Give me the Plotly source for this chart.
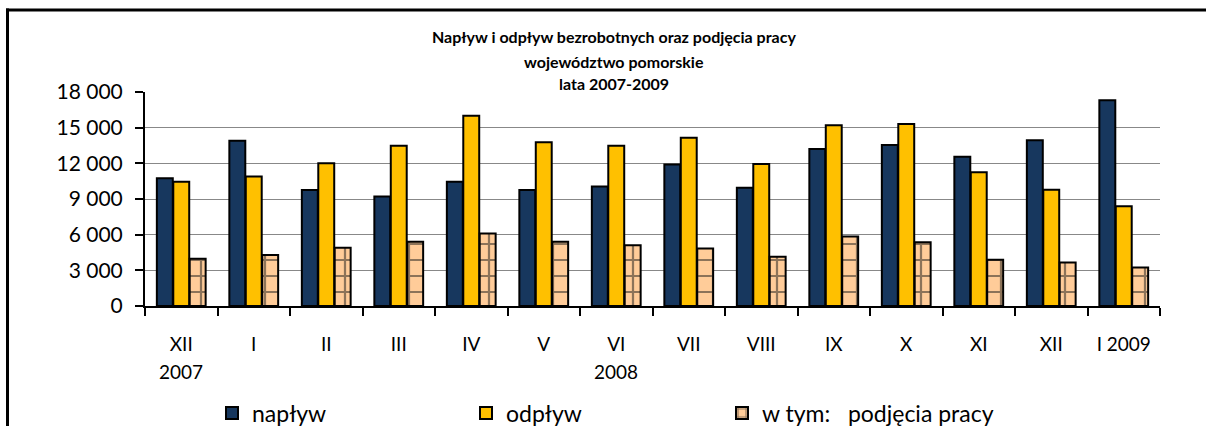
import plotly.graph_objects as go

categories = ["XII 2007", "I", "II", "III", "IV", "V", "VI", "VII",
              "VIII", "IX", "X", "XI", "XII", "I 2009"]
tick_labels = ["XII", "I", "II", "III", "IV", "V", "VI", "VII",
               "VIII", "IX", "X", "XI", "XII", "I 2009"]
year_categories = ["XII 2007", "VI"]
year_labels = ["2007", "2008"]
naplyw = [10750, 13900, 9750, 9200, 10450, 9750, 10050, 11900, 9950, 13200,
          13550, 12550, 13950, 17300]
odplyw = [10450, 10900, 12000, 13480, 16000, 13770, 13480, 14150, 11950, 15200,
          15300, 11250, 9780, 8400]
podjecia = [3980, 4300, 4900, 5400, 6100, 5400, 5100, 4840, 4150, 5850,
            5370, 3880, 3650, 3240]
y_ticks = [0, 3000, 6000, 9000, 12000, 15000, 18000]
title_lines = ["Napływ i odpływ bezrobotnych oraz podjęcia pracy",
               "województwo pomorskie",
               "lata 2007-2009"]

FONT = "Lato, 'Open Sans', sans-serif"
W, H = 1206, 426
# plot area in page pixels
PL, PR, PT, PB = 145, 1160, 92, 306
L, R, T, B = PL, W - PR, PT, H - PB
pw, ph = W - L - R, H - T - B


def px_x(x):          # page x pixel -> paper fraction
    return (x - L) / pw


def px_y(y):          # page y pixel -> paper fraction
    return (H - B - y) / ph


fig = go.Figure()
fig.add_trace(go.Bar(
    x=categories, y=naplyw, name="napływ", legend="legend",
    marker=dict(color="#17375E", line=dict(color="black", width=2)),
))
fig.add_trace(go.Bar(
    x=categories, y=odplyw, name="odpływ", legend="legend2",
    marker=dict(color="#FFC000", line=dict(color="black", width=2)),
))
fig.add_trace(go.Bar(
    x=categories, y=podjecia, name="w tym:\u00a0\u00a0\u00a0podjęcia pracy",
    legend="legend3",
    marker=dict(color="#FFCC99", line=dict(color="black", width=2),
                pattern=dict(shape="+", size=16, solidity=0.26,
                             fgcolor="#1a1a1a", bgcolor="#FFCC99")),
))

annotations = []
for txt, yy in zip(title_lines, [36.5, 61.5, 83.5]):
    annotations.append(dict(
        text=txt, xref="paper", yref="paper", x=px_x(614), y=px_y(yy),
        xanchor="center", yanchor="middle", showarrow=False,
        font=dict(family=FONT, size=16, color="black", weight="bold"),
    ))
for cat, lab in zip(year_categories, year_labels):
    annotations.append(dict(
        text=lab, xref="x", yref="paper", x=cat, y=px_y(371),
        xanchor="center", yanchor="middle", showarrow=False,
        font=dict(family=FONT, size=19, color="black"),
    ))


def legend_at(left_px):
    return dict(
        orientation="h", x=px_x(left_px), y=px_y(413), xanchor="left",
        yanchor="middle", font=dict(family=FONT, size=23, color="black"),
        itemwidth=30, bgcolor="rgba(0,0,0,0)", borderwidth=0,
    )


fig.update_layout(
    width=W, height=H,
    margin=dict(l=L, r=R, t=T, b=B, pad=0, autoexpand=False),
    paper_bgcolor="white", plot_bgcolor="white",
    separators=", ",
    barmode="group", bargap=0.32, bargroupgap=0.03,
    font=dict(family=FONT, color="black"),
    annotations=annotations,
    showlegend=True,
    legend=legend_at(212),
    legend2=legend_at(466),
    legend3=legend_at(722),
    shapes=[
        dict(type="line", xref="paper", yref="paper", layer="below",
             x0=px_x(7.5), x1=px_x(7.5), y0=px_y(440), y1=px_y(8.5),
             line=dict(color="black", width=3)),
        dict(type="line", xref="paper", yref="paper", layer="below",
             x0=px_x(6), x1=px_x(1220), y0=px_y(10), y1=px_y(10),
             line=dict(color="black", width=3)),
    ],
)
fig.update_xaxes(
    type="category",
    tickson="boundaries", ticks="outside", ticklen=8,
    tickwidth=2, tickcolor="black", showline=True, linecolor="black", linewidth=2,
    tickvals=categories, ticktext=tick_labels,
    tickfont=dict(family=FONT, size=19, color="black"), showgrid=False,
    ticklabelstandoff=20,
)
fig.update_yaxes(
    range=[0, 18000], tickvals=y_ticks, tickformat=",d", ticks="outside", ticklen=8,
    tickwidth=2, tickcolor="black", showline=True, linecolor="black", linewidth=2,
    showgrid=True, gridcolor="#888888", gridwidth=1, zeroline=False,
    tickfont=dict(family=FONT, size=21, color="black"), ticklabelstandoff=8,
)

fig.write_html(
    "out.html",
    config={"displayModeBar": False},
    post_script="document.body.style.margin='0';document.body.style.overflow='hidden';",
)
